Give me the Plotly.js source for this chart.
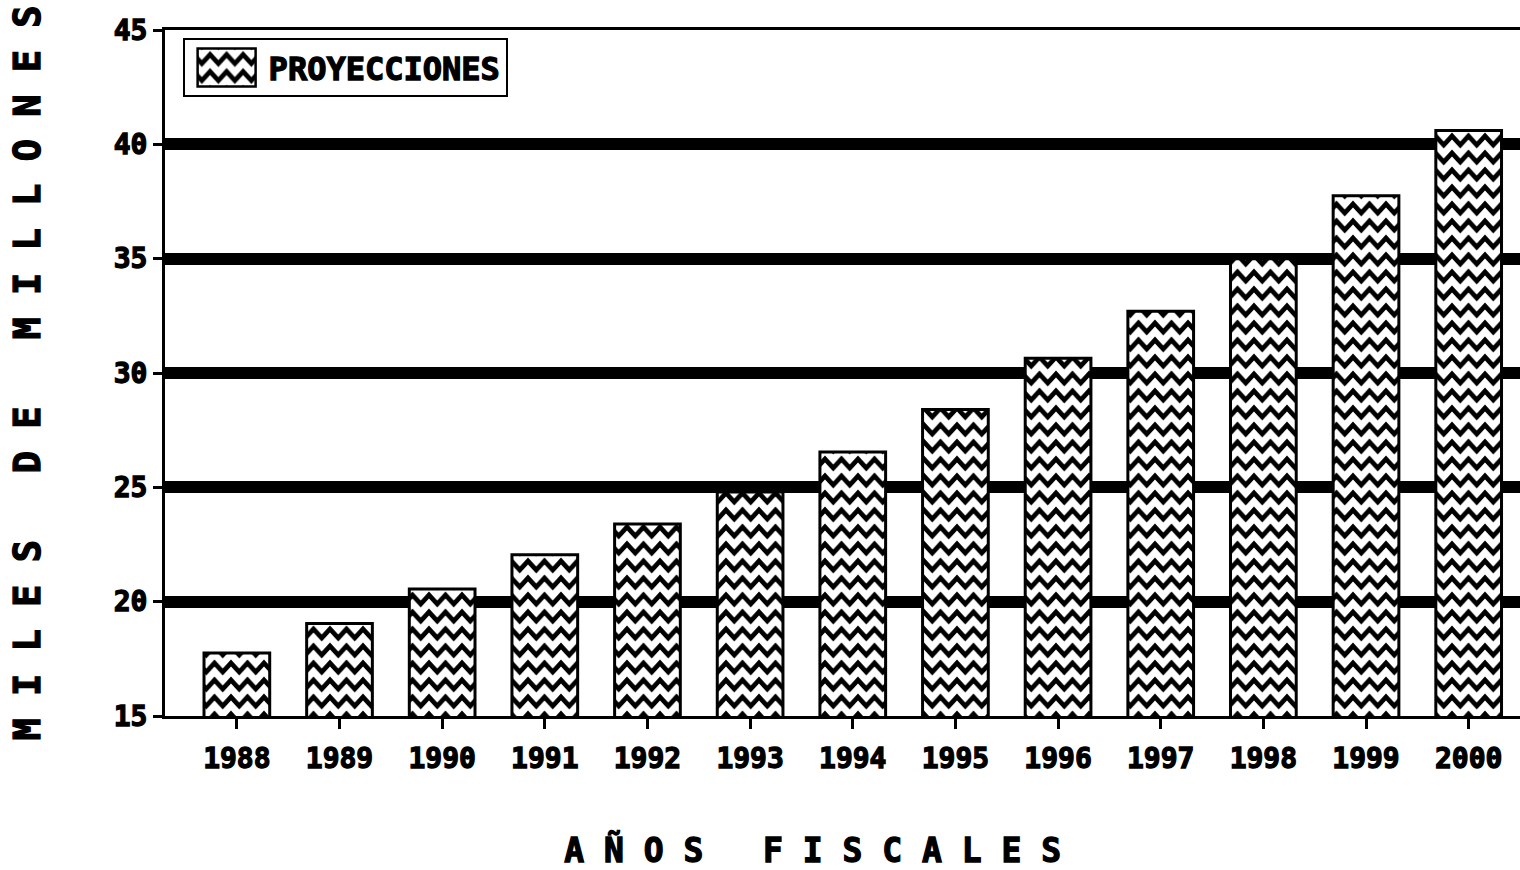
<!DOCTYPE html>
<html>
<head>
<meta charset="utf-8">
<script src="https://cdn.plot.ly/plotly-3.0.1.min.js"></script>
<style>
html,body{margin:0;padding:0;background:#fff;}
#chart{width:1520px;height:870px;}
#chart .xtick text, #chart .ytick text, #chart .g-xtitle text, #chart .g-ytitle text, #chart .legendtext {stroke:#000; stroke-width:1.3px;}
</style>
</head>
<body>
<div id="chart"></div>
<script>
const years = ["1988","1989","1990","1991","1992","1993","1994","1995","1996","1997","1998","1999","2000"];
const proyecciones = [17.75, 19.05, 20.55, 22.05, 23.4, 24.8, 26.55, 28.4, 30.65, 32.7, 35.0, 37.75, 40.6];
const yTicks = [15, 20, 25, 30, 35, 40, 45];
const seriesName = "PROYECCIONES";
const yTitle = "MILES DE MILLONES";
const xTitle = "AÑOS FISCALES";

const spaced = s => s.split("").join(" ").replace(/ /g, "\u00A0");

const FONT = "DejaVu Sans Mono, monospace";

const trace = {
  type: "bar",
  x: years,
  y: proyecciones,
  name: seriesName,
  width: 0.64,
  marker: {
    color: "#ffffff",
    line: {color: "#000000", width: 3},
    pattern: {shape: "x", fgcolor: "#000000", bgcolor: "#ffffff", size: 16, solidity: 0.3}
  },
  showlegend: true
};

const layout = {
  width: 1520, height: 870,
  margin: {l: 165, r: 0, t: 30, b: 154},
  paper_bgcolor: "#ffffff", plot_bgcolor: "#ffffff",
  font: {family: FONT, color: "#000000", size: 24, weight: "bold"},
  showlegend: true,
  legend: {
    x: 0.013, y: 0.988, xanchor: "left", yanchor: "top",
    bordercolor: "#000000", borderwidth: 2, bgcolor: "#ffffff",
    itemwidth: 74,
    font: {family: FONT, size: 32, color: "#000000", weight: "bold"}
  },
  xaxis: {
    type: "category",
    range: [-0.7, 12.5],
    showline: true, linecolor: "#000000", linewidth: 3, mirror: true,
    ticks: "outside", ticklen: 10, tickwidth: 3, tickcolor: "#000000",
    ticklabelstandoff: 5,
    tickfont: {family: FONT, size: 28, color: "#000000", weight: "bold"},
    showgrid: false, zeroline: false,
    title: {text: spaced(xTitle) + '<span style="color:#ffffff">\u00A0\u00A0\u00A0</span>', standoff: 69,
            font: {family: FONT, size: 33, color: "#000000", weight: "bold"}}
  },
  yaxis: {
    range: [15, 45],
    tickmode: "array", tickvals: yTicks, ticktext: yTicks.map(String),
    showline: true, linecolor: "#000000", linewidth: 3,
    ticks: "outside", ticklen: 9, tickwidth: 3, tickcolor: "#000000",
    tickfont: {family: FONT, size: 28, color: "#000000", weight: "bold"},
    showgrid: true, gridcolor: "#000000", gridwidth: 12,
    zeroline: false,
    title: {text: spaced(yTitle), standoff: 62,
            font: {family: FONT, size: 37, color: "#000000", weight: "bold"}}
  }
};

function zigzag() {
  const ns = "http://www.w3.org/2000/svg";
  document.querySelectorAll("#chart pattern").forEach(p => {
    p.setAttribute("width", "16.5");
    p.setAttribute("height", "17");
    p.removeAttribute("patternTransform");
    while (p.firstChild) p.removeChild(p.firstChild);
    const r = document.createElementNS(ns, "rect");
    r.setAttribute("width", "16.5"); r.setAttribute("height", "17");
    r.setAttribute("fill", "#ffffff");
    p.appendChild(r);
    const path = document.createElementNS(ns, "path");
    path.setAttribute("d", "M-8.25,13 L0,4 L8.25,13 L16.5,4 L24.75,13");
    path.setAttribute("fill", "none");
    path.setAttribute("stroke", "#000000");
    path.setAttribute("stroke-width", "4.8");
    p.appendChild(path);
  });
  // enlarge the legend swatch
  document.querySelectorAll("#chart .legendpoints path").forEach(el => {
    el.setAttribute("d", "M29,19H-29V-19H29Z");
    el.style.strokeWidth = "2.5px";
  });
}

Plotly.newPlot("chart", [trace], layout, {staticPlot: true}).then(zigzag);
</script>
</body>
</html>
